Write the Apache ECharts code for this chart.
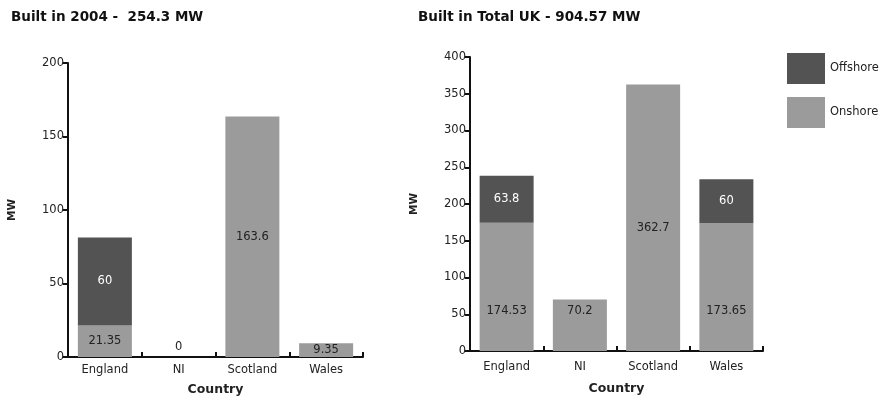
<!DOCTYPE html>
<html><head><meta charset="utf-8">
<script src="https://cdn.jsdelivr.net/npm/echarts@6/dist/echarts.min.js"></script>
<style>html,body{margin:0;padding:0;background:#fff}#c{width:892px;height:401px}</style>
</head><body><div id="c"></div>
<script>
const categories = ['England', 'NI', 'Scotland', 'Wales'];
const onshore2004 = [21.35, 0, 163.6, 9.35];
const offshore2004 = [60, null, null, null];
const onshoreTotal = [174.53, 70.2, 362.7, 173.65];
const offshoreTotal = [63.8, null, null, 60];
const titleLeft = 'Built in 2004 -  254.3 MW';
const titleRight = 'Built in Total UK - 904.57 MW';

const FONT = 'DejaVu Sans';
const DARK = '#535353', LIGHT = '#9b9b9b', TXT = '#222';
const chart = echarts.init(document.getElementById('c'));

function xAxis(idx, labelMargin, nameGap) {
  return {
    type: 'category', gridIndex: idx, data: categories,
    name: 'Country', nameLocation: 'middle', nameGap: nameGap,
    nameTextStyle: { fontFamily: FONT, fontWeight: 'bold', fontSize: 12.5, color: TXT },
    axisLine: { lineStyle: { color: '#111', width: 2 } },
    axisTick: { show: true, interval: 0, inside: true, length: 5, lineStyle: { color: '#111', width: 2 } },
    axisLabel: { fontFamily: FONT, fontSize: 11.5, color: TXT, margin: labelMargin }
  };
}
function yAxis(idx, max, interval) {
  return {
    type: 'value', gridIndex: idx, min: 0, max: max, interval: interval,
    name: 'MW', nameLocation: 'middle', nameGap: 50, nameRotate: 90,
    nameTextStyle: { fontFamily: FONT, fontWeight: 'bold', fontSize: 10.5, color: TXT },
    splitLine: { show: false },
    axisLine: { show: true, lineStyle: { color: '#111', width: 2 } },
    axisTick: { show: true, length: 5, lineStyle: { color: '#111', width: 2 } },
    axisLabel: { fontFamily: FONT, fontSize: 11.5, color: TXT, margin: 4 }
  };
}
function lbl(color, extra) {
  return Object.assign({ show: true, position: 'inside', fontFamily: FONT, fontSize: 11.5, color: color }, extra || {});
}

const onLeftData = onshore2004.map(v => v === 0
  ? { value: v, label: lbl(TXT, { position: 'top', distance: 4 }) }
  : { value: v });
const onRightData = onshoreTotal.map((v, i) => v > 300
  ? { value: v, label: lbl(TXT, { position: 'inside', offset: [0, 10] }) }
  : { value: v });

chart.setOption({
  animation: false,
  title: [
    { text: titleLeft, left: 6, top: 5, textStyle: { fontFamily: FONT, fontWeight: 'bold', fontSize: 13.5, color: '#111' } },
    { text: titleRight, left: 413, top: 5, textStyle: { fontFamily: FONT, fontWeight: 'bold', fontSize: 13.5, color: '#111' } }
  ],
  legend: {
    left: 782, top: 48, orient: 'vertical', itemWidth: 38, itemHeight: 31, itemGap: 13,
    icon: 'rect',
    data: ['Offshore', 'Onshore'],
    textStyle: { fontFamily: FONT, fontSize: 11.5, color: TXT, padding: [0, 0, 0, 0] }
  },
  grid: [
    { left: 68, top: 63, width: 295, height: 295 },
    { left: 470, top: 57, width: 293, height: 294 }
  ],
  xAxis: [xAxis(0, 7, 26), xAxis(1, 10, 31)],
  yAxis: [yAxis(0, 200, 50), yAxis(1, 400, 50)],
  series: [
    { name: 'Onshore', type: 'bar', stack: 'a', xAxisIndex: 0, yAxisIndex: 0, barWidth: 54,
      itemStyle: { color: LIGHT }, label: lbl(TXT), data: onLeftData },
    { name: 'Offshore', type: 'bar', stack: 'a', xAxisIndex: 0, yAxisIndex: 0, barWidth: 54,
      itemStyle: { color: DARK }, label: lbl('#fff'), data: offshore2004 },
    { name: 'Onshore', type: 'bar', stack: 'b', xAxisIndex: 1, yAxisIndex: 1, barWidth: 54,
      itemStyle: { color: LIGHT }, label: lbl(TXT, { position: 'insideBottom', distance: 34 }), data: onRightData },
    { name: 'Offshore', type: 'bar', stack: 'b', xAxisIndex: 1, yAxisIndex: 1, barWidth: 54,
      itemStyle: { color: DARK }, label: lbl('#fff'), data: offshoreTotal }
  ]
});
</script></body></html>
